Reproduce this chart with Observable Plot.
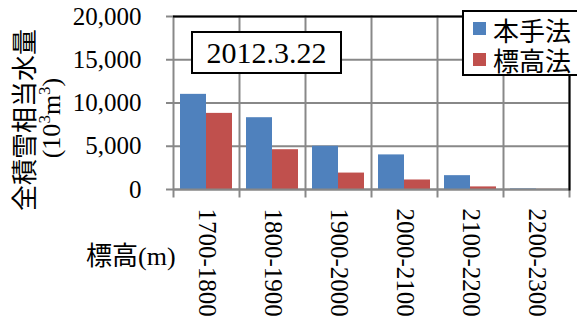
<!DOCTYPE html>
<html>
<head>
<meta charset="utf-8">
<script src="https://cdn.jsdelivr.net/npm/d3@7"></script>
<script src="https://cdn.jsdelivr.net/npm/@observablehq/plot@0.6"></script>
<style>
  body { margin: 0; background: #fff; }
  #chart {
    position: relative; width: 577px; height: 324px; overflow: hidden;
    font-family: "Liberation Serif", "Times New Roman", "Noto Sans CJK JP", serif; color: #000;
  }
  #chart svg { position: absolute; left: 0; top: 0; }
  .note {
    position: absolute; left: 191px; top: 31px; width: 151px; height: 43px;
    box-sizing: border-box; border: 2px solid #000; background: #fff;
    font-size: 30px; line-height: 39px; text-align: center;
  }
  .legend {
    position: absolute; left: 462px; top: 10px; width: 140px; height: 66px;
    box-sizing: border-box; border: 2px solid #000; background: #fff;
    font-family: "Noto Sans CJK JP", sans-serif; font-size: 26px;
  }
  .legend .sw { position: absolute; left: 9px; width: 13px; height: 13px; }
  .legend .lb { position: absolute; left: 29px; height: 26px; line-height: 26px; white-space: nowrap; }
  .vtitle {
    position: absolute; white-space: nowrap;
    transform: translate(-50%, -50%) rotate(-90deg);
  }
  .cjk { font-family: "Noto Sans CJK JP", sans-serif; font-size: 26px; }
  .latin { font-family: "Liberation Serif", "Times New Roman", serif; font-size: 26px; }
  .latin sup { font-size: 17px; line-height: 0; }
  .xtitle {
    position: absolute; left: 86px; top: 253px; transform: translateY(-50%);
    font-size: 26px; white-space: nowrap;
  }
</style>
</head>
<body>
<div id="chart"></div>
<script>
// Elevation bands (m) and total snow water equivalent (10^3 m^3) per method
const elevationBands = ["1700-1800", "1800-1900", "1900-2000", "2000-2100", "2100-2200", "2200-2300"];
const seriesNames = ["本手法", "標高法"];
const proposedMethod = [11000, 8300, 5000, 4000, 1600, 60];
const elevationMethod = [8800, 4600, 1900, 1100, 300, 10];
const yTicks = [0, 5000, 10000, 15000, 20000];
const seriesColors = ["#4F81BD", "#C0504D"];
const dateLabel = "2012.3.22";

const rows = elevationBands.flatMap((band, i) => [
  {band, series: seriesNames[0], value: proposedMethod[i]},
  {band, series: seriesNames[1], value: elevationMethod[i]}
]);

const gridColor = "#888";
const serif = "'Liberation Serif', 'Times New Roman', serif";
const lastBand = elevationBands[elevationBands.length - 1];

const plot = Plot.plot({
  width: 577,
  height: 324,
  marginLeft: 173,
  marginRight: 8,
  marginTop: 16,
  marginBottom: 135,
  style: {fontFamily: serif, fontSize: "25px", background: "transparent", overflow: "visible"},
  fx: {domain: elevationBands, padding: 0, label: null},
  x: {domain: seriesNames, paddingInner: 0, paddingOuter: 0.26, axis: null},
  y: {domain: [0, 20000], label: null},
  color: {domain: seriesNames, range: seriesColors},
  marks: [
    Plot.gridY(yTicks, {stroke: gridColor, strokeOpacity: 1, strokeWidth: 2}),
    // category separators, extended below the baseline as tick marks
    Plot.frame({anchor: "left", stroke: gridColor, strokeWidth: 2, insetBottom: -7}),
    Plot.frame({anchor: "right", stroke: gridColor, strokeWidth: 2, insetBottom: -7, fx: () => lastBand}),
    Plot.barY(rows, {fx: "band", x: "series", y: "value", fill: "series"}),
    Plot.ruleY([0], {stroke: gridColor, strokeWidth: 2}),
    // plot-area border on top and right
    Plot.ruleY([20000], {stroke: "#000", strokeWidth: 2}),
    Plot.frame({anchor: "right", stroke: "#000", strokeWidth: 2, fx: () => lastBand}),
    Plot.axisY(yTicks, {
      tickFormat: d3.format(","), tickSize: 7, tickPadding: 25,
      stroke: gridColor, strokeWidth: 2, fill: "#000", fontSize: 25, fontFamily: serif, label: null
    }),
    Plot.axisFx({anchor: "bottom", tickRotate: 90, tickSize: 0, tickPadding: 19, fontSize: 25, fontFamily: serif, label: null})
  ]
});

const chart = document.getElementById("chart");
chart.appendChild(plot);

// date annotation
const note = document.createElement("div");
note.className = "note";
note.textContent = dateLabel;
chart.appendChild(note);

// legend
const legend = document.createElement("div");
legend.className = "legend";
seriesNames.forEach((name, i) => {
  const sw = document.createElement("div");
  sw.className = "sw";
  sw.style.top = (10 + i * 31) + "px";
  sw.style.background = seriesColors[i];
  const lb = document.createElement("div");
  lb.className = "lb";
  lb.style.top = (5 + i * 30) + "px";
  lb.textContent = name;
  legend.append(sw, lb);
});
chart.appendChild(legend);

// y-axis title (two rotated lines)
const t1 = document.createElement("div");
t1.className = "vtitle cjk";
t1.style.left = "22px"; t1.style.top = "120px";
t1.textContent = "全積雪相当水量";
const t2 = document.createElement("div");
t2.className = "vtitle latin";
t2.style.left = "52px"; t2.style.top = "118px";
t2.innerHTML = "(10<sup>3</sup>m<sup>3</sup>)";
chart.append(t1, t2);

// x-axis title
const xt = document.createElement("div");
xt.className = "xtitle";
xt.innerHTML = '<span class="cjk">標高</span><span class="latin">(m)</span>';
chart.appendChild(xt);
</script>
</body>
</html>
